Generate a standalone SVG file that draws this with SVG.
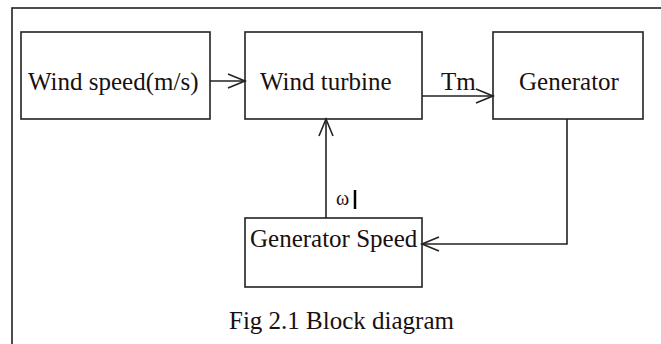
<svg xmlns="http://www.w3.org/2000/svg" width="661" height="344" viewBox="0 0 661 344">
<style>
.box{fill:#fff;stroke:#222;stroke-width:1.6}
.ln{fill:none;stroke:#222;stroke-width:1.6}
text{font-family:"Liberation Serif","Times New Roman",serif;font-size:25px;fill:#1a1010}
</style>
<defs>
<marker id="ah" markerUnits="userSpaceOnUse" markerWidth="24" markerHeight="20" viewBox="-20 -10 24 20" refX="0" refY="0" orient="auto">
<path d="M-17,-7 L0,0 L-17,7" fill="none" stroke="#222" stroke-width="1.6"/>
</marker>
</defs>
<rect x="12" y="8" width="700" height="400" fill="#fff" stroke="#222" stroke-width="1.6"/>
<g id="wind-speed"><rect class="box" x="21" y="32" width="189" height="87"/><text x="28" y="90">Wind speed(m/s)</text></g>
<g id="wind-turbine"><rect class="box" x="245" y="32" width="177" height="87"/><text x="260" y="90">Wind turbine</text></g>
<g id="generator"><rect class="box" x="493" y="32" width="150" height="87"/><text x="519" y="90">Generator</text></g>
<g id="generator-speed"><rect class="box" x="245" y="218" width="177" height="69"/><text x="250" y="247">Generator Speed</text></g>
<g id="connectors">
<line class="ln" x1="210" y1="81" x2="245" y2="81" marker-end="url(#ah)"/>
<line class="ln" x1="422" y1="96" x2="493" y2="96" marker-end="url(#ah)"/>
<polyline class="ln" points="567,119 567,244 422,244" marker-end="url(#ah)"/>
<line class="ln" x1="326" y1="218" x2="326" y2="119" marker-end="url(#ah)"/>
<text x="441" y="90">Tm</text>
<text x="336" y="205" style="font-size:20px">ω</text>
<line x1="355" y1="190" x2="355" y2="209" stroke="#000" stroke-width="2.5"/>
</g>
<text x="229" y="329">Fig 2.1 Block diagram</text>
</svg>
